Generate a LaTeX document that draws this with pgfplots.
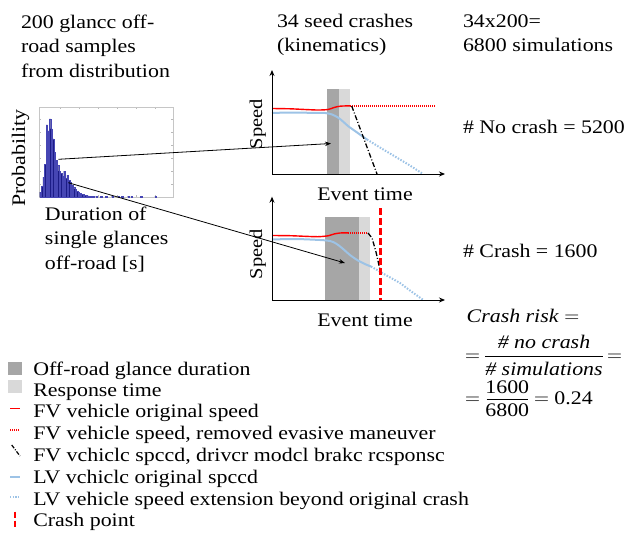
\documentclass[border=0pt]{standalone}
\usepackage{fontspec}
\setmainfont{Liberation Serif}[FakeStretch=1.14]
\usepackage{pgfplots}
\pgfplotsset{compat=1.18}
\usetikzlibrary{arrows.meta}
\definecolor{dgray}{RGB}{166,166,166}
\definecolor{lgray}{RGB}{217,217,217}
\definecolor{lvblue}{RGB}{157,195,230}
\definecolor{histblue}{RGB}{28,28,135}
\definecolor{histedge}{RGB}{70,70,180}
\begin{document}
\begin{tikzpicture}[every node/.style={inner sep=0pt, outer sep=0pt, font=\fontsize{19.2pt}{24pt}\selectfont}]
\useasboundingbox (0pt,0pt) rectangle (635pt,-533pt);

% ---------------- histogram ----------------
\begin{axis}[at={(39pt,-197pt)}, anchor=south west, scale only axis,
  width=134pt, height=90pt, xmin=39, xmax=173, ymin=0, ymax=90,
  axis line style={gray!45, line width=0.4pt},
  xtick={60,79,98,117,136,155}, ytick={13,26,39,52,65,78},
  xticklabels={}, yticklabels={},
  tick style={gray!55, line width=0.3pt}, major tick length=2pt,
  tick align=inside, tick pos=both, clip=false]
\addplot[ybar, bar width=1.4pt, fill=histblue, draw=histedge, line width=0.25pt] coordinates {
(40.4,5) (42.0,11) (43.6,20) (45.2,33) (46.8,72) (48.4,66) (50.0,78) (51.6,68)
(53.2,58) (54.8,45) (56.4,37) (58.0,32) (59.6,26) (61.2,24) (62.8,21) (64.4,26)
(66.0,19) (67.6,22) (69.2,17) (70.8,15) (72.4,12) (74.0,10) (75.6,8) (77.2,6)
(78.8,4.5) (80.4,3.5) (82.0,3) (83.6,2.5) (85.2,2) (86.8,1.5) (88.4,1.2) (90.0,1)
(93.2,1) (96.4,0.8) (101.2,1) (106.0,0.8) (112.4,1) (118.8,1) (122.0,0.8)
(128.4,1) (131.6,0.8) (141.2,0.8) (155.6,1)};
\end{axis}

% ---------------- upper speed plot ----------------
\begin{axis}[at={(272pt,-70pt)}, anchor=north west, scale only axis,
  width=173pt, height=104pt, xmin=272, xmax=445, ymin=70, ymax=174,
  y dir=reverse, hide axis, clip=false]
\addplot[fill=dgray, draw=none] coordinates {(326.7,174) (326.7,89.3) (339.3,89.3) (339.3,174)};
\addplot[fill=lgray, draw=none] coordinates {(339.3,174) (339.3,89.3) (350,89.3) (350,174)};
\addplot[red, line width=1.4pt, smooth] coordinates {(272,108.5) (290,108.8) (305,109.5) (318,110) (328,109.5) (334,107.5) (340,106.2) (350,105.8)};
\addplot[red, line width=1.4pt, dash pattern=on 1pt off 1pt] coordinates {(350,105.8) (435,105.8)};
\addplot[lvblue, line width=2pt, smooth] coordinates {(272,113) (290,112.5) (310,112.8) (325,113) (332,114.5) (338,117.5) (343,121.5) (348,126) (355,131) (362,136) (367,139.5)};
\addplot[lvblue, line width=2pt, dash pattern=on 1.5pt off 1.5pt] coordinates {(367,139.5) (380,147.5) (395,156.5) (410,165.5) (423,174)};
\addplot[black, line width=1.3pt, dash pattern=on 5pt off 2pt on 1pt off 2pt] coordinates {(351.7,106) (377,174)};
\draw[line width=0.9pt, -{Stealth[length=6pt,width=5pt]}] (axis cs:272,174) -- (axis cs:272,70);
\draw[line width=0.9pt, -{Stealth[length=6pt,width=5pt]}] (axis cs:272,174) -- (axis cs:445,174);
\end{axis}

% ---------------- lower speed plot ----------------
\begin{axis}[at={(272pt,-196.7pt)}, anchor=north west, scale only axis,
  width=173pt, height=103.3pt, xmin=272, xmax=445, ymin=196.7, ymax=300,
  y dir=reverse, hide axis, clip=false]
\addplot[fill=dgray, draw=none] coordinates {(325,300) (325,217.3) (359.3,217.3) (359.3,300)};
\addplot[fill=lgray, draw=none] coordinates {(359.3,300) (359.3,217.3) (370,217.3) (370,300)};
\addplot[red, line width=1.4pt, smooth] coordinates {(272,235.5) (290,235.7) (305,236.3) (318,236.7) (328,235.8) (334,234) (340,233) (348,232.8)};
\addplot[red, line width=1.4pt, dash pattern=on 1pt off 1pt] coordinates {(348,232.8) (368,232.8)};
\addplot[black, line width=1.3pt, dash pattern=on 5pt off 2pt on 1pt off 2pt] coordinates {(368,233) (372,238) (376,252) (380.5,272)};
\addplot[lvblue, line width=2pt, smooth] coordinates {(272,239.5) (295,239) (320,240) (330,241) (336,243.5) (342,248) (350,255) (358,260.5) (366,264.5) (371,266.5)};
\addplot[lvblue, line width=2pt, dash pattern=on 1.5pt off 1.5pt] coordinates {(371,266.5) (380,271.7) (400,283) (412,292) (423.3,300)};
\addplot[red, line width=2.5pt, dash pattern=on 7pt off 3pt] coordinates {(380.7,208.3) (380.7,300)};
\draw[line width=0.9pt, -{Stealth[length=6pt,width=5pt]}] (axis cs:272,300) -- (axis cs:272,196.7);
\draw[line width=0.9pt, -{Stealth[length=6pt,width=5pt]}] (axis cs:272,300) -- (axis cs:445,300);
\end{axis}

% ---------------- texts, arrows, legend ----------------
\begin{scope}[x=1pt, y=-1pt]
\node[anchor=base west] at (21,28) {200 glancc off-};
\node[anchor=base west] at (21,52.7) {road samples};
\node[anchor=base west] at (21,77.5) {from distribution};
\node[rotate=90, anchor=base] at (25,158) {Probability};
\node[anchor=base west] at (45,220) {Duration of};
\node[anchor=base west] at (45,244.5) {single glances};
\node[anchor=base west] at (45,269) {off-road [s]};

\node[anchor=base west] at (277,27) {34 seed crashes};
\node[anchor=base west] at (277,51.5) {(kinematics)};
\node[anchor=base west] at (463,27) {34x200=};
\node[anchor=base west] at (463,51.5) {6800 simulations};
\node[anchor=base west] at (463,133) {\# No crash = 5200};
\node[anchor=base west] at (463,257) {\# Crash = 1600};

\node[rotate=90, anchor=base, font=\fontsize{18pt}{22pt}\selectfont] at (262,124) {Speed};
\node[rotate=90, anchor=base, font=\fontsize{18pt}{22pt}\selectfont] at (262,254) {Speed};
\node[anchor=base] at (365,200) {Event time};
\node[anchor=base] at (365,326) {Event time};

% crash risk formula
\node[anchor=base west] at (466.7,322) {\textit{Crash risk} $=$};
\node[anchor=base west] at (465,361.5) {$=$};
\node[anchor=base] at (544,348) {\textit{\# no crash}};
\draw[line width=0.9pt] (485,356.7) -- (603,356.7);
\node[anchor=base] at (544,375) {\textit{\# simulations}};
\node[anchor=base west] at (607,361.5) {$=$};
\node[anchor=base west] at (465,404) {$=$};
\node[anchor=base] at (507.3,393) {1600};
\draw[line width=0.9pt] (486.7,399) -- (528,399);
\node[anchor=base] at (507.3,416.7) {6800};
\node[anchor=base west] at (534,404) {$=$ 0.24};

\draw[line width=0.8pt, -{Stealth[length=6pt,width=4.5pt]}] (58.3,159.3) -- (331,143.5);
\draw[line width=0.8pt, -{Stealth[length=6pt,width=4.5pt]}] (68.3,182.7) -- (345,263);

% legend
\fill[dgray] (8.3,362.3) rectangle (21.7,375);
\fill[lgray] (8.3,380) rectangle (21.7,393);
\draw[red, line width=1.4pt] (10,408.3) -- (20,408.3);
\draw[red, line width=1.4pt, dash pattern=on 1pt off 1pt] (10,430) -- (20,430);
\draw[black, line width=1.2pt, dash pattern=on 4pt off 1.5pt on 1pt off 1.5pt] (11.7,445) -- (20,456);
\draw[lvblue, line width=1.6pt] (10,476.7) -- (20,476.7);
\draw[lvblue, line width=1.6pt, dash pattern=on 1.3pt off 1.3pt] (10,496.7) -- (20,496.7);
\draw[red, line width=2pt, dash pattern=on 6pt off 3pt] (15,511.7) -- (15,527);
\node[anchor=base west] at (33.3,375) {Off-road glance duration};
\node[anchor=base west] at (33.3,396) {Response time};
\node[anchor=base west] at (33.3,417.3) {FV vehicle original speed};
\node[anchor=base west] at (33.3,439.3) {FV vehicle speed, removed evasive maneuver};
\node[anchor=base west] at (33.3,461.5) {FV vchiclc spccd, drivcr modcl brakc rcsponsc};
\node[anchor=base west] at (33.3,483.3) {LV vchiclc original spccd};
\node[anchor=base west] at (33.3,505) {LV vehicle speed extension beyond original crash};
\node[anchor=base west] at (33.3,526.7) {Crash point};
\end{scope}
\end{tikzpicture}
\end{document}
